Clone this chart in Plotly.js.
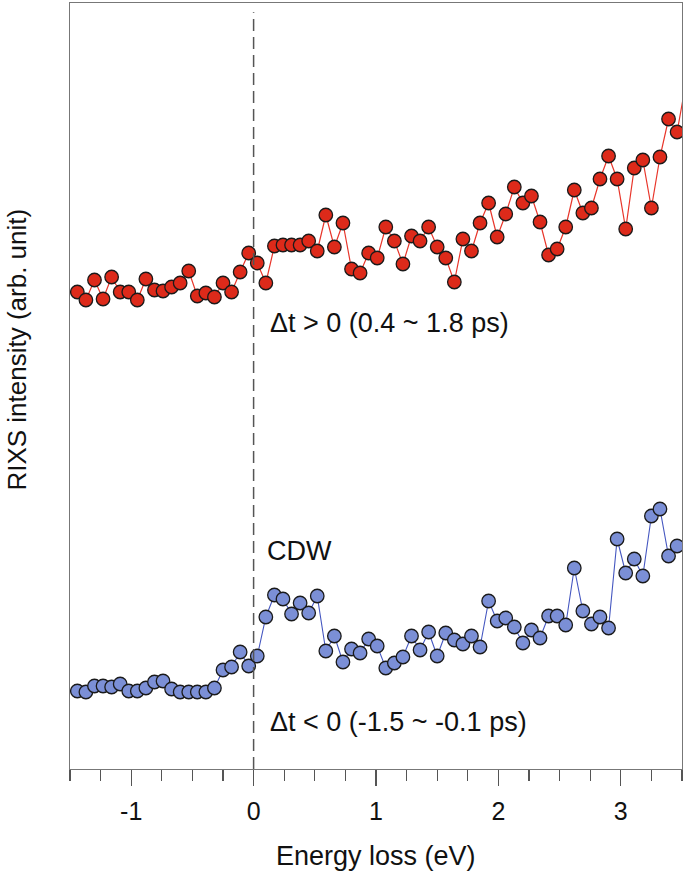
<!DOCTYPE html>
<html>
<head>
<meta charset="utf-8">
<script src="https://cdn.plot.ly/plotly-3.0.1.min.js"></script>
<style>html,body{margin:0;padding:0;background:#fff;}#chart{width:685px;height:875px;}</style>
</head>
<body>
<div id="chart"></div>
<script>
const energy = [-1.44,-1.37,-1.30,-1.23,-1.16,-1.09,-1.02,-0.95,-0.88,-0.81,-0.74,-0.67,-0.60,-0.53,-0.46,-0.39,-0.32,-0.25,-0.18,-0.11,-0.04,0.03,0.10,0.17,0.24,0.31,0.38,0.45,0.52,0.59,0.66,0.73,0.80,0.87,0.94,1.01,1.08,1.15,1.22,1.29,1.36,1.43,1.50,1.57,1.64,1.71,1.78,1.85,1.92,1.99,2.06,2.13,2.20,2.27,2.34,2.41,2.48,2.55,2.62,2.69,2.76,2.83,2.90,2.97,3.04,3.11,3.18,3.25,3.32,3.39,3.46,3.53];

const positiveDelay = [4.77,4.69,4.89,4.70,4.92,4.77,4.77,4.69,4.90,4.79,4.78,4.82,4.86,4.98,4.73,4.76,4.72,4.86,4.77,4.97,5.16,5.06,4.86,5.23,5.24,5.24,5.24,5.28,5.18,5.54,5.22,5.46,5.00,4.96,5.16,5.11,5.42,5.28,5.05,5.33,5.28,5.42,5.22,5.11,4.87,5.30,5.18,5.46,5.66,5.32,5.55,5.82,5.66,5.73,5.47,5.14,5.20,5.42,5.79,5.56,5.61,5.90,6.13,5.90,5.40,6.01,6.09,5.61,6.12,6.50,6.37,6.85];

const negativeDelay = [0.78,0.77,0.83,0.83,0.82,0.85,0.78,0.78,0.81,0.87,0.88,0.80,0.77,0.77,0.77,0.77,0.81,0.99,1.02,1.17,1.03,1.13,1.52,1.74,1.70,1.55,1.66,1.56,1.73,1.18,1.33,1.07,1.20,1.16,1.30,1.23,1.01,1.06,1.12,1.33,1.19,1.37,1.13,1.36,1.29,1.25,1.33,1.22,1.68,1.48,1.51,1.42,1.26,1.39,1.31,1.53,1.53,1.44,2.01,1.58,1.45,1.52,1.41,2.30,1.96,2.10,1.93,2.53,2.60,2.13,2.23];

const xRange = [-1.5, 3.5];
const tickVals = [-1, 0, 1, 2, 3];
const tickText = ['-1', '0', '1', '2', '3'];
const labels = {
  pos: 'Δt > 0 (0.4 ~ 1.8 ps)',
  neg: 'Δt < 0 (-1.5 ~ -0.1 ps)',
  cdw: 'CDW',
  x: 'Energy loss (eV)',
  y: 'RIXS intensity (arb. unit)'
};

const FONT = 'Liberation Sans, Arial, Helvetica, sans-serif';

function series(vals, lineColor, lineWidth, fill) {
  const xs = energy.slice(0, vals.length);
  // markers are only drawn for points inside the axis range (line continues to the edge)
  const inX = [], inY = [];
  xs.forEach((x, i) => { if (x <= xRange[1]) { inX.push(x); inY.push(vals[i]); } });
  return [
    {x: xs, y: vals, type: 'scatter', mode: 'lines',
     line: {color: lineColor, width: lineWidth}, hoverinfo: 'skip'},
    {x: inX, y: inY, type: 'scatter', mode: 'markers',
     marker: {size: 13.5, color: fill, line: {color: '#1a1a1a', width: 1.3}}, hoverinfo: 'skip'}
  ];
}

const traces = [
  ...series(positiveDelay, '#e8352a', 1.2, '#dd2a1a'),
  ...series(negativeDelay, '#4456c0', 1.1, '#7b8fd6')
];

const layout = {
  width: 685, height: 875,
  margin: {l: 69.5, r: 2.5, t: 3, b: 106, pad: 0},
  paper_bgcolor: '#fff', plot_bgcolor: '#fff',
  showlegend: false,
  font: {family: FONT, color: '#111'},
  xaxis: {
    range: xRange,
    tickmode: 'array', tickvals: tickVals, ticktext: tickText,
    ticks: 'outside', ticklen: 16, tickwidth: 1.3, tickcolor: '#555',
    minor: {dtick: 0.25, tick0: 0, ticks: 'outside', ticklen: 11, tickwidth: 1.1, tickcolor: '#555'},
    showline: true, linecolor: '#777', linewidth: 1.3, mirror: true,
    showgrid: false, zeroline: false,
    tickfont: {size: 25, family: FONT, color: '#111'},
    ticklabelstandoff: 4
  },
  yaxis: {
    range: [0, 7.66],
    showticklabels: false, ticks: '',
    showline: true, linecolor: '#777', linewidth: 1.3, mirror: true,
    showgrid: false, zeroline: false
  },
  shapes: [
    {type: 'line', xref: 'x', yref: 'paper', x0: 0, x1: 0, y0: 0, y1: 0.988,
     line: {color: '#555', width: 1.5, dash: '12px,6px'}}
  ],
  annotations: [
    {text: labels.pos, xref: 'x', yref: 'y', x: 0.12, y: 4.46, xanchor: 'left', yanchor: 'middle',
     showarrow: false, font: {size: 27, family: FONT, color: '#111'}},
    {text: labels.neg, xref: 'x', yref: 'y', x: 0.12, y: 0.47, xanchor: 'left', yanchor: 'middle',
     showarrow: false, font: {size: 27, family: FONT, color: '#111'}},
    {text: labels.cdw, xref: 'x', yref: 'y', x: 0.09, y: 2.18, xanchor: 'left', yanchor: 'middle',
     showarrow: false, font: {size: 27, family: FONT, color: '#111'}},
    {text: labels.x, xref: 'paper', yref: 'paper', x: 0.5, y: -0.1136, xanchor: 'center', yanchor: 'middle',
     showarrow: false, font: {size: 27, family: FONT, color: '#111'}},
    {text: labels.y, xref: 'paper', yref: 'paper', x: -0.086, y: 0.548, xanchor: 'center', yanchor: 'middle',
     textangle: -90, showarrow: false, font: {size: 26, family: FONT, color: '#111'}}
  ]
};

Plotly.newPlot('chart', traces, layout, {displayModeBar: false, staticPlot: true});
</script>
</body>
</html>
